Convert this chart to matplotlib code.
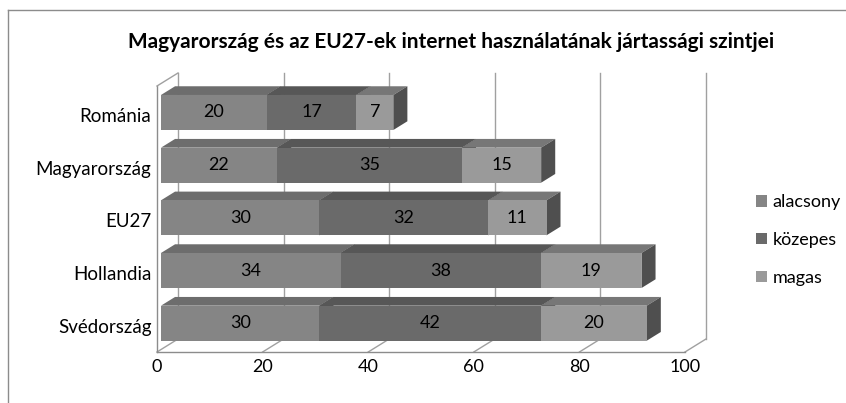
import numpy as np
import matplotlib.pyplot as plt
from matplotlib.patches import Polygon, Patch
from matplotlib.lines import Line2D

plt.rcParams['font.family'] = ['Lato', 'DejaVu Sans']

countries = ['Svédország', 'Hollandia', 'EU27', 'Magyarország', 'Románia']
series = ['alacsony', 'közepes', 'magas']
alacsony = [30, 34, 30, 22, 20]
kozepes = [42, 38, 32, 35, 17]
magas = [20, 19, 11, 15, 7]
xticks = [0, 20, 40, 60, 80, 100]

front_col = ['#858585', '#6a6a6a', '#9a9a9a']
top_col = ['#6d6d6d', '#575757', '#777777']
side_col = ['#555555', '#454545', '#4f4f4f']

fig = plt.figure(figsize=(8.46, 4.03), dpi=100)
ax = fig.add_axes([157 / 846, 1 - 352 / 403, 528 / 846, 266 / 403])
ax.set_xlim(0, 100)
ax.set_ylim(-0.5, 4.55)
for s in ax.spines.values():
    s.set_visible(False)

# depth of the 3d box, in data units
dx = 21 / 5.28
dy = 13 / 52.6
f0, f1 = 0.19, 0.86
line_c = '#a0a0a0'

# walls
ylo, yhi = -0.5, 4.55
for t in xticks:
    ax.plot([t + dx, t + dx], [ylo + dy, yhi + dy], color=line_c, lw=1, zorder=1, clip_on=False)
    ax.plot([t, t + dx], [ylo, ylo + dy], color=line_c, lw=1, zorder=1, clip_on=False)
ax.plot([0, 100], [ylo, ylo], color='#8c8c8c', lw=1, zorder=1, clip_on=False)
ax.plot([0, 0], [ylo, yhi], color='#8c8c8c', lw=1, zorder=1, clip_on=False)
ax.plot([0, dx], [yhi, yhi + dy], color=line_c, lw=1, zorder=1, clip_on=False)

y = np.arange(len(countries))
ox, oy = f0 * dx, f0 * dy
bx, by = (f1 - f0) * dx, (f1 - f0) * dy
left = np.zeros(len(countries))
for k, vals in enumerate([alacsony, kozepes, magas]):
    bars = ax.barh(y + oy, vals, left=left + ox, height=0.665, color=front_col[k],
                   zorder=2.5 + k, label=series[k], clip_on=False)
    for r, v in zip(bars, vals):
        x0, y0, w, h = r.get_x(), r.get_y(), r.get_width(), r.get_height()
        top = Polygon([(x0, y0 + h), (x0 + bx, y0 + h + by), (x0 + w + bx, y0 + h + by), (x0 + w, y0 + h)],
                      closed=True, facecolor=top_col[k], edgecolor='none', zorder=2 + k, clip_on=False)
        side = Polygon([(x0 + w, y0), (x0 + w + bx, y0 + by), (x0 + w + bx, y0 + h + by), (x0 + w, y0 + h)],
                       closed=True, facecolor=side_col[k], edgecolor='none', zorder=2 + k, clip_on=False)
        ax.add_patch(top)
        ax.add_patch(side)
        ax.text(x0 + w / 2, y0 + h / 2, str(v), ha='center', va='center', fontsize=13, zorder=10)
    left = left + np.array(vals)

ax.set_yticks(y)
ax.set_yticklabels(countries, fontsize=13.5)
ax.set_xticks(xticks)
ax.set_xticklabels([str(t) for t in xticks], fontsize=13)
ax.tick_params(axis='both', length=0)
ax.tick_params(axis='x', pad=5)
ax.tick_params(axis='y', pad=4)

handles = [Patch(facecolor=c, edgecolor='none') for c in front_col]
fig.legend(handles, series, loc='center left', bbox_to_anchor=(756 / 846, 1 - 240 / 403),
           frameon=False, fontsize=13, handlelength=0.6, handleheight=0.6,
           handletextpad=0.3, labelspacing=1.2, borderpad=0, borderaxespad=0)

fig.text(451 / 846, 1 - 42 / 403, 'Magyarország és az EU27-ek internet használatának jártassági szintjei',
         ha='center', va='center', fontsize=15, fontweight='bold')

# outer chart frame
fig.add_artist(Line2D([8 / 846, 8 / 846], [0, 1 - 10 / 403], color='#8c8c8c', lw=1))
fig.add_artist(Line2D([8 / 846, 1], [1 - 10 / 403, 1 - 10 / 403], color='#8c8c8c', lw=1))

fig.savefig('out.png', dpi=100)
